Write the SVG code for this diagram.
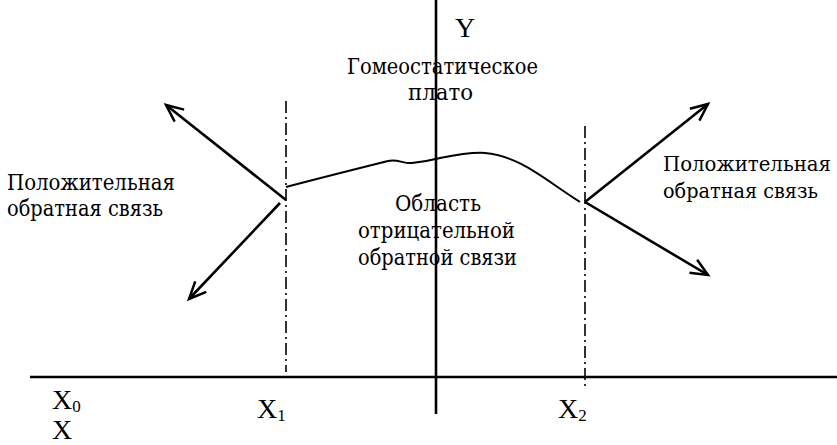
<svg xmlns="http://www.w3.org/2000/svg" width="837" height="445" viewBox="0 0 837 445">
<defs>
<style>
text{font-family:"Liberation Serif","DejaVu Serif","Times New Roman",serif;fill:#000}
.cy{font-family:"DejaVu Serif","Liberation Serif",serif;font-size:23px}
.cr{font-size:19.5px}
.lt{font-size:28px}
.sub{font-size:17px}
.ax{stroke:#000;stroke-width:2.6;fill:none}
.dd{stroke:#000;stroke-width:1.6;stroke-dasharray:12 4 2 4;fill:none}
.ar{stroke:#000;stroke-width:2.6;fill:none}
.cv{stroke:#000;stroke-width:2;fill:none}
</style>
<marker id="ah" viewBox="0 0 20 20" refX="18" refY="10" markerWidth="19" markerHeight="19" markerUnits="userSpaceOnUse" orient="auto" overflow="visible">
<path d="M0,2 L18,10 L0,18" fill="none" stroke="#000" stroke-width="2.6"/>
</marker>
</defs>
<rect width="837" height="445" fill="#fff"/>
<g id="axes">
<line class="ax" x1="30" y1="377" x2="837" y2="377"/>
<line class="ax" x1="436" y1="0" x2="436" y2="414"/>
</g>
<g id="boundaries">
<line class="dd" x1="286" y1="101" x2="286" y2="372"/>
<line class="dd" x1="585" y1="126" x2="585" y2="390"/>
</g>
<g id="connectors">
<path class="cv" d="M286,187 C320,178 360,168 388,161 C398,159 404,164 412,163 C425,162 432,160 440,158 C455,155 470,152 485,153 C520,156 545,180 580,202"/>
<line class="ar" x1="286" y1="200" x2="166" y2="105" marker-end="url(#ah)"/>
<line class="ar" x1="280" y1="203" x2="189" y2="299" marker-end="url(#ah)"/>
<line class="ar" x1="585" y1="202" x2="708" y2="104" marker-end="url(#ah)"/>
<line class="ar" x1="585" y1="202" x2="708" y2="275" marker-end="url(#ah)"/>
</g>
<g id="labels">
<text class="lt" x="455" y="37">Y</text>
<text class="cy" x="347" y="74" textLength="191" lengthAdjust="spacingAndGlyphs">Гомеостатическое</text>
<text class="cy" x="408" y="100" textLength="65" lengthAdjust="spacingAndGlyphs">плато</text>
<text class="cy" x="395" y="211" textLength="86" lengthAdjust="spacingAndGlyphs">Область</text>
<text class="cy" x="358" y="238" textLength="157" lengthAdjust="spacingAndGlyphs">отрицательной</text>
<text class="cy" x="358" y="265" textLength="159" lengthAdjust="spacingAndGlyphs">обратной связи</text>
<text class="cy" x="7" y="190" textLength="168" lengthAdjust="spacingAndGlyphs">Положительная</text>
<text class="cy" x="7" y="216" textLength="156" lengthAdjust="spacingAndGlyphs">обратная связь</text>
<text class="cy cr" x="663" y="171" textLength="168" lengthAdjust="spacingAndGlyphs">Положительная</text>
<text class="cy cr" x="663" y="198" textLength="155" lengthAdjust="spacingAndGlyphs">обратная связь</text>
<text class="lt" x="52" y="409">X<tspan class="sub" dy="3">0</tspan></text>
<text class="lt" x="52" y="439">X</text>
<text class="lt" x="257" y="418">X<tspan class="sub" dy="3">1</tspan></text>
<text class="lt" x="558" y="418">X<tspan class="sub" dy="3">2</tspan></text>
</g>
</svg>
